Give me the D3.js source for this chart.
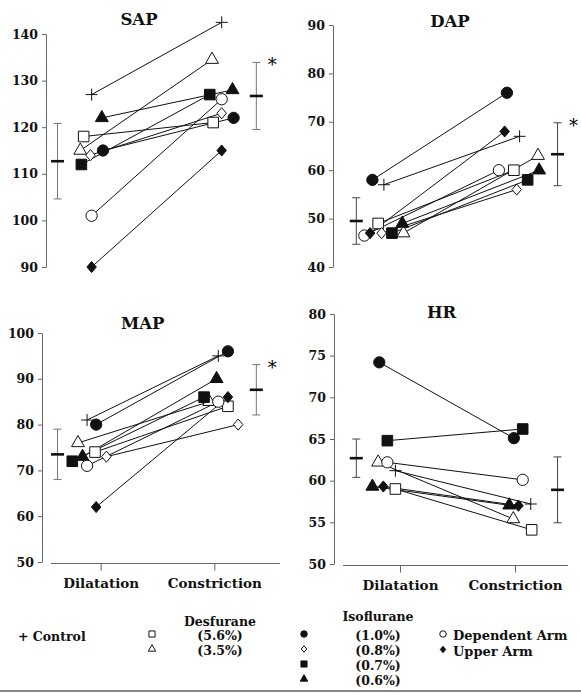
<!DOCTYPE html>
<html>
<head>
<meta charset="utf-8">
<script src="https://cdn.jsdelivr.net/npm/d3@7"></script>
<style>
  body { margin: 0; background: #fff; }
  svg { display: block; font-family: "DejaVu Serif", serif; font-weight: bold; }
</style>
</head>
<body>
<svg id="chart" width="581" height="700"></svg>
<script>
// Categories on the x axis
const phases = ['Dilatation', 'Constriction'];

// Nine groups: Control, Desflurane 5.6 / 3.5 %, Isoflurane 1.0 / 0.8 / 0.7 / 0.6 %, Dependent arm, Upper arm
const groups = ['Control', 'Des 5.6%', 'Des 3.5%', 'Iso 1.0%', 'Iso 0.8%', 'Iso 0.7%', 'Iso 0.6%', 'Dependent Arm', 'Upper Arm'];
const shapes = ['plus', 'square', 'triangle', 'circle', 'diamond', 'square', 'triangle', 'circle', 'diamond'];
const filled = [false, false, false, true, false, true, true, false, true];

// SAP (mmHg)
const sapDil = [127, 118, 115, 115, 114, 112, 122, 101, 90];
const sapCon = [142.5, 121, 134.5, 122, 123, 127, 128, 126, 115];
const sapDilX = [-0.08, -0.15, -0.18, 0.02, -0.09, -0.17, 0.01, -0.08, -0.08];
const sapConX = [0.065, -0.01, -0.02, 0.17, 0.065, -0.04, 0.16, 0.065, 0.065];
const sapMean = [112.7, 126.7];
const sapSD = [8.1, 7.2];
const sapTicks = [90, 100, 110, 120, 130, 140];

// DAP (mmHg)
const dapDil = [57, 49, 47, 58, 47, 47, 49, 46.5, 47];
const dapCon = [67, 60, 63, 76, 56, 58, 60, 60, 68];
const dapDilX = [-0.14, -0.19, 0.03, -0.24, -0.16, -0.07, 0.02, -0.31, -0.26];
const dapConX = [0.04, -0.01, 0.2, -0.07, 0.015, 0.11, 0.21, -0.14, -0.09];
const dapMean = [49.5, 63.3];
const dapSD = [4.8, 6.5];
const dapTicks = [40, 50, 60, 70, 80, 90];

// MAP (mmHg)
const mapDil = [81, 74, 76, 80, 73, 72, 73, 71, 62];
const mapCon = [95, 84, 85, 96, 80, 86, 90, 85, 86];
const mapDilX = [-0.12, -0.05, -0.2, -0.04, 0.05, -0.25, -0.16, -0.12, -0.04];
const mapConX = [0.035, 0.12, -0.045, 0.12, 0.21, -0.09, 0.02, 0.035, 0.12];
const mapMean = [73.5, 87.6];
const mapSD = [5.5, 5.5];
const mapTicks = [50, 60, 70, 80, 90, 100];

// HR (beats/min) - no 0.8% isoflurane point shown
const hrDil = [61.2, 59.0, 62.2, 74.2, null, 64.8, 59.3, 62.2, 59.3];
const hrCon = [57.2, 54.1, 55.4, 65.1, null, 66.2, 57.05, 60.1, 57.0];
const hrDilX = [-0.04, -0.04, -0.19, -0.18, null, -0.11, -0.24, -0.11, -0.145];
const hrConX = [0.137, 0.145, -0.015, -0.01, null, 0.067, -0.05, 0.067, 0.03];
const hrMean = [62.7, 58.9];
const hrSD = [2.3, 3.95];
const hrTicks = [50, 55, 60, 65, 70, 75, 80];

// Mean +/- SD bar positions, in category units
const errX = [-0.38, 0.37];

// Legend labels
const desDoses = ['(5.6%)', '(3.5%)'];
const isoDoses = ['(1.0%)', '(0.8%)', '(0.7%)', '(0.6%)'];
const armNames = ['Dependent Arm', 'Upper Arm'];

const svg = d3.select('#chart');
const ink = '#111';
const axisGray = '#666';

// Thin plus sign and a fuller diamond than d3's built-in one
const plusSym = {
  draw(ctx, size) {
    const r = Math.sqrt(size) / 2;
    ctx.moveTo(-r, 0); ctx.lineTo(r, 0);
    ctx.moveTo(0, -r); ctx.lineTo(0, r);
  }
};
const diamondSym = {
  draw(ctx, size) {
    const r = Math.sqrt(size / 2);
    const w = r * 0.85;
    ctx.moveTo(0, -r); ctx.lineTo(w, 0); ctx.lineTo(0, r); ctx.lineTo(-w, 0); ctx.closePath();
  }
};
const symTypes = {
  plus: plusSym, square: d3.symbolSquare, triangle: d3.symbolTriangle,
  circle: d3.symbolCircle, diamond: diamondSym,
};
const symSizes = { plus: 144, square: 112, triangle: 72, circle: 100, diamond: 62 };

function drawMarker(g, shape, isFilled, cx, cy, scale = 1) {
  const path = d3.symbol().type(symTypes[shape]).size(symSizes[shape] * scale)();
  g.append('path')
    .attr('d', path)
    .attr('transform', `translate(${cx},${cy})`)
    .attr('fill', shape === 'plus' ? 'none' : (isFilled ? ink : '#fff'))
    .attr('stroke', ink)
    .attr('stroke-width', 1);
}

function drawPanel(cfg, dil, con, dilX, conX, mean, sd, ticks, star) {
  const g = svg.append('g');
  const y = d3.scaleLinear().domain(d3.extent(ticks)).range([cfg.yBot, cfg.yTop]);
  const x = d3.scaleLinear().domain([0, 1]).range([cfg.xDil, cfg.xCon]);

  // y axis
  g.append('g')
    .attr('transform', `translate(${cfg.yAxisX},0)`)
    .call(d3.axisLeft(y).tickValues(ticks).tickSize(4).tickSizeOuter(0).tickPadding(4))
    .call((sel) => {
      sel.select('.domain').attr('stroke', axisGray);
      sel.selectAll('.tick line').attr('stroke', axisGray);
      sel.selectAll('text')
        .attr('fill', ink)
        .attr('font-size', 12.5)
        .attr('font-family', '"DejaVu Serif", serif')
        .attr('font-weight', 'bold');
    });

  // x axis (bottom row only)
  if (cfg.xAxis) {
    g.append('line')
      .attr('x1', cfg.yAxisX + 9).attr('x2', cfg.xAxisEnd)
      .attr('y1', cfg.yBot + 1.5).attr('y2', cfg.yBot + 1.5)
      .attr('stroke', axisGray);
    g.append('g')
      .attr('transform', `translate(0,${cfg.yBot + 1.5})`)
      .call(d3.axisBottom(x).tickValues([0, 1]).tickFormat((i) => phases[i]).tickSize(7).tickPadding(8))
      .call((sel) => {
        sel.select('.domain').remove();
        sel.selectAll('.tick line').attr('stroke', axisGray);
        sel.selectAll('text')
          .attr('fill', ink)
          .attr('font-size', 13.5)
          .attr('font-family', '"DejaVu Serif", serif')
          .attr('font-weight', 'bold');
      });
  }

  // title
  g.append('text')
    .attr('x', cfg.titleX).attr('y', cfg.titleY)
    .attr('text-anchor', 'middle')
    .attr('font-size', 16.5)
    .attr('fill', ink)
    .text(cfg.title);

  // connecting lines
  groups.forEach((name, i) => {
    if (dil[i] == null || con[i] == null) return;
    g.append('line')
      .attr('x1', x(dilX[i])).attr('y1', y(dil[i]))
      .attr('x2', x(1 + conX[i])).attr('y2', y(con[i]))
      .attr('stroke', ink)
      .attr('stroke-width', 1);
  });

  // markers
  groups.forEach((name, i) => {
    if (dil[i] == null || con[i] == null) return;
    drawMarker(g, shapes[i], filled[i], x(dilX[i]), y(dil[i]));
    drawMarker(g, shapes[i], filled[i], x(1 + conX[i]), y(con[i]));
  });

  // mean +/- SD
  [0, 1].forEach((k) => {
    const ex = x(k + errX[k]);
    const top = y(mean[k] + sd[k]);
    const bot = y(mean[k] - sd[k]);
    const eb = g.append('g').attr('stroke', cfg.errColor);
    eb.append('line').attr('x1', ex).attr('x2', ex).attr('y1', top).attr('y2', bot);
    eb.append('line').attr('x1', ex - 4).attr('x2', ex + 4).attr('y1', top).attr('y2', top);
    eb.append('line').attr('x1', ex - 4).attr('x2', ex + 4).attr('y1', bot).attr('y2', bot);
    g.append('line')
      .attr('x1', ex - 6.5).attr('x2', ex + 6.5)
      .attr('y1', y(mean[k])).attr('y2', y(mean[k]))
      .attr('stroke', ink)
      .attr('stroke-width', 2.6);
    if (k === 1 && star) {
      g.append('text')
        .attr('x', ex + 16).attr('y', top + 9)
        .attr('text-anchor', 'middle')
        .attr('font-size', 18)
        .attr('font-weight', 'normal')
        .attr('fill', '#000')
        .text('*');
    }
  });
}

drawPanel({ title: 'SAP', titleX: 139, titleY: 25, yAxisX: 46, yTop: 34, yBot: 267,
  xDil: 100.7, xCon: 214.3, errColor: '#777' },
  sapDil, sapCon, sapDilX, sapConX, sapMean, sapSD, sapTicks, true);

drawPanel({ title: 'DAP', titleX: 450, titleY: 26.5, yAxisX: 333, yTop: 25, yBot: 267,
  xDil: 400, xCon: 515, errColor: '#444' },
  dapDil, dapCon, dapDilX, dapConX, dapMean, dapSD, dapTicks, true);

drawPanel({ title: 'MAP', titleX: 142.7, titleY: 329, yAxisX: 42, yTop: 333, yBot: 562,
  xDil: 100.7, xCon: 214.3, errColor: '#777', xAxis: true, xAxisEnd: 280 },
  mapDil, mapCon, mapDilX, mapConX, mapMean, mapSD, mapTicks, true);

drawPanel({ title: 'HR', titleX: 441.7, titleY: 318, yAxisX: 334, yTop: 314, yBot: 564,
  xDil: 400, xCon: 515, errColor: '#444', xAxis: true, xAxisEnd: 568 },
  hrDil, hrCon, hrDilX, hrConX, hrMean, hrSD, hrTicks, false);

// Legend
const legend = svg.append('g').attr('fill', ink);
const legendText = (tx, ty, str, size, anchor = 'start') =>
  legend.append('text').attr('x', tx).attr('y', ty)
    .attr('font-size', size).attr('text-anchor', anchor).text(str);

legendText(18, 641, '+ Control', 12.5);

legendText(220, 626, 'Desfurane', 12.5, 'middle');
desDoses.forEach((d, i) => {
  drawMarker(legend, shapes[1 + i], filled[1 + i], 152, 634 + i * 15, 0.33);
  legendText(220, 640 + i * 15, d, 12.5, 'middle');
});

legendText(378, 621, 'Isoflurane', 12.5, 'middle');
isoDoses.forEach((d, i) => {
  drawMarker(legend, shapes[3 + i], filled[3 + i], 304, 634 + i * 15, 0.33);
  legendText(378, 640 + i * 15, d, 12.5, 'middle');
});

armNames.forEach((d, i) => {
  drawMarker(legend, shapes[7 + i], filled[7 + i], 443, 634 + i * 15.5, 0.33);
  legendText(453, 640 + i * 15.5, d, 13);
});

svg.append('line')
  .attr('x1', 0).attr('x2', 581)
  .attr('y1', 691).attr('y2', 691)
  .attr('stroke', '#888')
  .attr('stroke-width', 2);
</script>
</body>
</html>
